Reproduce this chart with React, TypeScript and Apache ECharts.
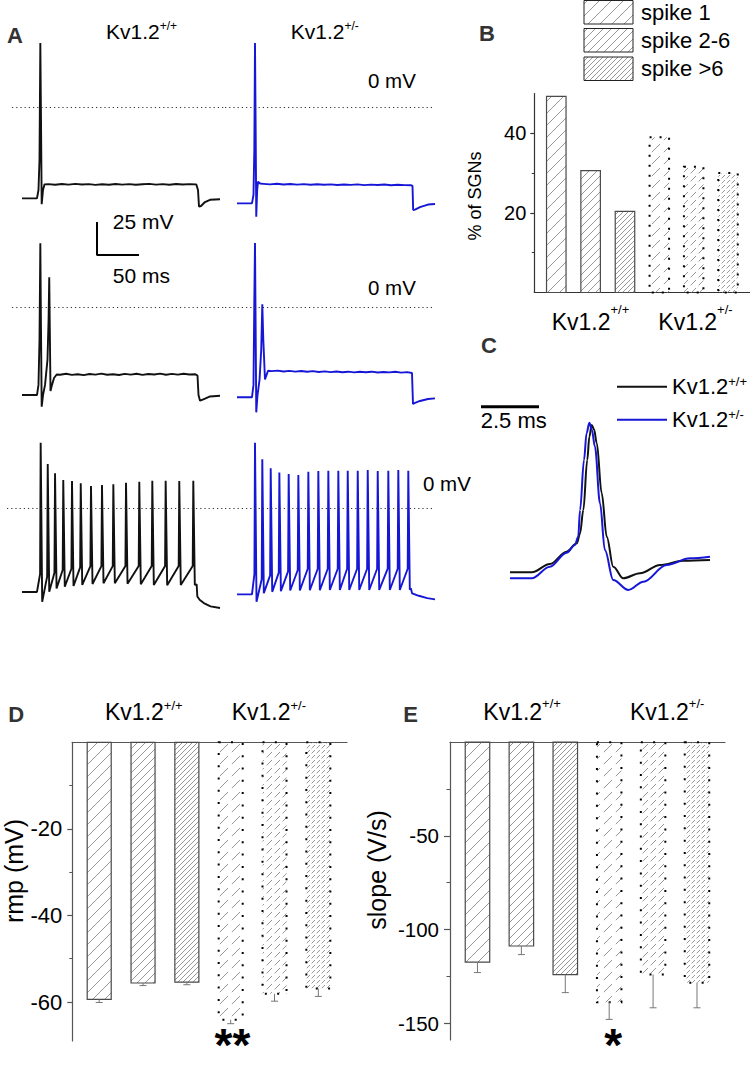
import React, { useEffect, useRef } from "react";
import * as echarts from "echarts";

const FONT = 'Arial, "Liberation Sans", Helvetica, sans-serif';
const WT_COLOR = "#111111";
const HET_COLOR = "#1616d6";

// ---------------- Panel A: current-clamp traces (ms from step onset, mV) ----------------
const plateauR1WT: [number, number][] = [
  [10, -58.4], [18, -58.9], [26, -58.3], [34, -58.8], [42, -58.2], [50, -58.7], [58, -58.4], [66, -59.0],
  [74, -58.5], [82, -58.9], [90, -58.3], [98, -58.8], [106, -58.4], [114, -58.9], [122, -58.5], [130, -58.2],
  [138, -58.8], [146, -58.4], [154, -58.9], [162, -58.3], [170, -58.7], [178, -58.4], [186, -58.6],
];
const traceR1WT: [number, number][] = [
  [-21.4, -69.2], [-3.6, -69.2], [-1.8, -62.9], [-0.6, -40], [0.4, 48.5], [1.2, -9.8], [2.0, -73.7],
  [3.6, -62.9], [5.4, -58.6],
  ...plateauR1WT,
  [188.1, -62.9], [189.3, -75.5], [191.7, -75], [196.4, -72], [202.4, -70.3], [214.3, -69.9],
];
const plateauR1Het: [number, number][] = [
  [10, -58.2], [18, -58.6], [26, -58.1], [34, -58.7], [42, -58.3], [50, -58.8], [58, -58.4], [66, -58.9],
  [74, -58.5], [82, -58.9], [90, -58.6], [98, -59.1], [106, -58.7], [114, -59.0], [122, -58.6], [130, -59.2],
  [138, -58.8], [146, -59.1], [154, -58.7], [162, -59.3], [170, -58.9], [178, -59.2], [186, -59.3],
];
const traceR1Het: [number, number][] = [
  [-21.4, -73], [-3.6, -73], [-1.8, -66.7], [-0.8, -32.6], [0, 48.5], [0.8, -17.4], [1.5, -83.1],
  [2.6, -62.9], [3.6, -56.6], [6, -58],
  ...plateauR1Het,
  [187.5, -59.8], [188.3, -78], [190.5, -77.7], [196.4, -75.8], [206, -73.9], [214.3, -73.5],
];
const plateauR2WT: [number, number][] = [
  [24, -51.3], [31, -50.6], [38, -51.4], [45, -50.9], [52, -51.6], [59, -50.8], [66, -51.2], [73, -50.5],
  [80, -51.3], [87, -50.9], [94, -51.5], [101, -50.7], [108, -51.2], [115, -50.6], [122, -51.4], [129, -50.8],
  [136, -51.1], [143, -50.5], [150, -51.3], [157, -50.7], [164, -51.2], [171, -50.6], [178, -51.1], [185, -51.0],
];
const traceR2WT: [number, number][] = [
  [-21.4, -66.7], [-3.6, -66.7], [-1.8, -59], [-0.6, -25], [0.4, 48.3], [1.2, -17.4], [2.0, -75.5],
  [3.6, -66.7], [6, -59], [8.9, -40], [10.2, -9.8], [11, 22.5], [11.7, -17.4], [12.5, -63.6], [14.3, -59],
  [16.7, -53.8], [19.9, -51.1],
  ...plateauR2WT,
  [187.5, -51.9], [188.7, -66.7], [190.5, -71], [195.2, -69.7], [202.4, -67.8], [214.3, -67.2],
];
const plateauR2Het: [number, number][] = [
  [20, -48.6], [27, -48.2], [34, -48.9], [41, -48.4], [48, -49.0], [55, -48.5], [62, -49.1], [69, -48.6],
  [76, -49.2], [83, -48.8], [90, -49.3], [97, -48.9], [104, -49.4], [111, -49.0], [118, -49.5], [125, -49.1],
  [132, -49.4], [139, -49.0], [146, -49.6], [153, -49.2], [160, -49.5], [167, -49.1], [174, -49.7], [181, -49.3],
];
const traceR2Het: [number, number][] = [
  [-21.4, -68.4], [-3.6, -68.4], [-1.8, -59], [-0.8, 5.3], [0, 48.5], [0.8, -17.4], [1.5, -79.8],
  [3, -66.7], [5.4, -55.3], [7.4, -32.6], [8.7, 2], [9.9, -25], [11.9, -54.8], [15.5, -48.3],
  ...plateauR2Het,
  [186.9, -50], [188.1, -73.5], [190.5, -72.7], [196.4, -71.2], [206, -69.7], [214.3, -69.2],
];

// Row 3: repetitive firing
const trainWTTimes = [0.8, 9.2, 17.9, 27.7, 38.1, 48.5, 60.7, 73.8, 87.3, 102.4, 118.2, 133.7, 149.6, 165.8, 182.5];
const trainWTPeaks = [49.5, 33.3, 26.3, 21.2, 20.5, 18.7, 16.7, 17.4, 18.0, 19.2, 19.9, 20.7, 20.7, 20.5, 20.7];
const trainWTTroughs = [-71, -63.4, -60.9, -59.6, -59.1, -58.3, -57.6, -57, -57, -57.3, -57.8, -58.3, -58.6, -58.3, -58.3];
const trainWTThresh = [-50, -52, -49, -47, -46, -45, -44, -44, -44, -44, -44, -44, -44, -44, -44];
const trainWTTail: [number, number][] = [[186.5, -57.8], [187.3, -67], [190, -69.5], [195, -72], [203, -74.5], [214.3, -75.8]];

const trainHetTimes = [0, 8.7, 18.7, 29, 40.1, 51.6, 63.5, 75.4, 87.3, 99.2, 110.4, 122.3, 134.2, 146.1, 158.7, 170.6, 182.5];
const trainHetPeaks = [49.5, 36.9, 30.1, 26.8, 25.8, 25.0, 27.5, 28.0, 28.3, 28.3, 28.3, 28.3, 28.8, 28.0, 28.3, 28.8, 28.3];
const trainHetTroughs = [-71, -64.5, -63.5, -63, -62.5, -62.5, -62.3, -62.3, -62.1, -62.1, -62.1, -62.1, -62.1, -62.1, -62.1, -62.1, -62];
const trainHetThresh = [-50, -54, -51, -49, -48, -47, -46, -46, -46, -46, -46, -46, -46, -46, -46, -46, -46];
const trainHetTail: [number, number][] = [[185.5, -60.8], [187, -64.6], [195, -66.5], [205, -68.3], [214.3, -69.2]];

const baselineR3WT = -63.6;
const baselineR3Het = -65.4;

// scale bar: 25 mV / 50 ms
const scaleBarA: [number, number][] = [[0, 25], [0, 0], [50, 0]];

// ---------------- Panel B ----------------
const groups = ["Kv1.2+/+", "Kv1.2+/-"];
const spikeClasses = ["spike 1", "spike 2-6", "spike >6"];
const pctWT = [49.3, 30.6, 20.4];
const pctHet = [39.0, 31.6, 30.0];

// ---------------- Panel C: average AP (ms, mV) ----------------
const apTWT = [0, 0.94, 1.72, 2.44, 2.88, 3.02, 3.16, 3.33, 3.42, 3.52, 3.62, 3.74, 3.95, 4.17, 4.45, 4.88, 5.6, 6.47, 7.47, 8.62];
const apVWT = [-64.2, -64.2, -58.1, -49, -42.9, -35.5, -18.4, 18.4, 35.5, 44.1, 41, 30.7, -5.9, -38, -60.1, -68.6, -64.9, -58.8, -55.7, -55.1];
const apTHet = [0, 0.94, 1.72, 2.44, 2.8, 2.94, 3.02, 3.19, 3.3, 3.42, 3.53, 3.66, 3.88, 4.09, 4.45, 5.1, 5.75, 6.75, 7.76, 8.62];
const apVHet = [-68.6, -68.6, -60.1, -49.8, -44.1, -38, -18.4, 18.4, 38, 45.8, 40.4, 28.2, -13.5, -47.8, -69.9, -77.2, -71.1, -58.8, -53.9, -52.7];
const scaleBarC: [number, number][] = [[-1.25, 57.5], [1.25, 57.5]];

// ---------------- Panel D: resting membrane potential (mV) ----------------
const rmpWT = [-59.4, -55.6, -55.4];
const rmpWTSem = [0.7, 0.6, 0.6];
const rmpHet = [-64.1, -58.1, -56.9];
const rmpHetSem = [0.9, 1.7, 1.8];

// ---------------- Panel E: slope (V/s) ----------------
const slopeWT = [-117.4, -108.8, -124.1];
const slopeWTSem = [5.6, 4.6, 9.6];
const slopeHet = [-138.8, -124.0, -128.4];
const slopeHetSem = [9.2, 17.8, 13.4];

const hatchPeriods = [12, 8, 5];

function buildTrain(
  startT: number, baseline: number, times: number[], peaks: number[], troughs: number[], thresh: number[],
  tail: [number, number][]
): [number, number][] {
  const pts: [number, number][] = [[startT, baseline], [-3.6, baseline]];
  times.forEach((t, i) => {
    pts.push([t - 0.7, thresh[i]], [t, peaks[i]], [t + 1.8, troughs[i]]);
  });
  return pts.concat(tail);
}

function makeHatch(p: number, dashed: boolean): HTMLCanvasElement {
  const c = document.createElement("canvas");
  c.width = p;
  c.height = p;
  const g = c.getContext("2d");
  if (g) {
    g.strokeStyle = "#8c8c8c";
    g.lineWidth = 0.9;
    g.beginPath();
    if (dashed) {
      g.moveTo(p * 0.32, p * 0.68);
      g.lineTo(p + 1, -1);
    } else {
      g.moveTo(-1, p + 1);
      g.lineTo(p + 1, -1);
      g.moveTo(-1, 1);
      g.lineTo(1, -1);
      g.moveTo(p - 1, p + 1);
      g.lineTo(p + 1, p - 1);
    }
    g.stroke();
  }
  return c;
}

export default function App() {
  const ref = useRef<HTMLDivElement>(null);

  useEffect(() => {
    if (!ref.current) return;
    const chart = echarts.init(ref.current, undefined, { renderer: "svg" });

    const hatch = hatchPeriods.map((p) => [makeHatch(p, false), makeHatch(p, true)]);
    const pat = (k: number, dashed: boolean) => ({ image: hatch[k][dashed ? 1 : 0], repeat: "repeat" });

    const zeroLine = {
      silent: true,
      symbol: ["none", "none"],
      label: { show: false },
      lineStyle: { color: "#333", width: 1, type: [1.2, 3] },
      data: [{ yAxis: 0 }],
    };

    const rowZero = [107, 307, 508];
    const pxPerMV = 1.32;
    const gridsA: any[] = [];
    rowZero.forEach((y0, r) => {
      const top = y0 - 52 * pxPerMV;
      const h = 142 * pxPerMV;
      gridsA.push({ left: r === 2 ? 7 : 12, top, width: r === 2 ? 218 : 213, height: h });
      gridsA.push({ left: 225, top, width: 210, height: h });
    });

    const grids = [
      ...gridsA, // 0..5
      { left: 92, top: 215.5, width: 84, height: 46.2 }, // 6 scale bar
      { left: 534.3, top: 93.5, width: 215.7, height: 199 }, // 7 B
      { left: 475, top: 400, width: 240, height: 200.6 }, // 8 C
      { left: 72.3, top: 742.3, width: 274.7, height: 298.7 }, // 9 D
      { left: 450, top: 742.2, width: 275, height: 297.8 }, // 10 E
    ].map((g) => ({ ...g, containLabel: false, outerBoundsMode: "none" }));

    const hiddenX = (gridIndex: number, min: number, max: number) => ({ type: "value", gridIndex, min, max, show: false });
    const hiddenY = (gridIndex: number, min: number, max: number) => ({ type: "value", gridIndex, min, max, show: false });

    const barX = (gridIndex: number, min: number, max: number, position: string, color: string) => ({
      type: "value", gridIndex, min, max, position,
      axisLine: { show: true, onZero: false, lineStyle: { color, width: 1.2 } },
      axisTick: { show: false }, axisLabel: { show: false }, splitLine: { show: false },
    });
    const mainY = (gridIndex: number, min: number, max: number, ticks: number[], len: number, size: number, margin: number, color: string) => ({
      type: "value", gridIndex, min, max, position: "left",
      axisLine: { show: true, onZero: false, lineStyle: { color, width: 1.2 } },
      axisTick: { show: true, customValues: ticks, length: len, inside: false, lineStyle: { color, width: 1.2 } },
      axisLabel: { show: true, customValues: ticks, fontSize: size, fontFamily: FONT, color: "#000", margin },
      splitLine: { show: false },
    });
    const minorY = (gridIndex: number, min: number, max: number, ticks: number[], len: number, color: string) => ({
      type: "value", gridIndex, min, max, position: "left",
      axisLine: { show: false, onZero: false },
      axisTick: { show: true, customValues: ticks, length: len, inside: false, lineStyle: { color, width: 1 } },
      axisLabel: { show: false }, splitLine: { show: false },
    });

    const xAxis = [
      hiddenX(0, -33.33, 220.24),
      hiddenX(1, -35.71, 214.29),
      hiddenX(2, -33.33, 220.24),
      hiddenX(3, -35.71, 214.29),
      hiddenX(4, -39.29, 220.24),
      hiddenX(5, -35.71, 214.29),
      hiddenX(6, -5.95, 94.05),
      barX(7, -0.64, 5.64, "bottom", "#333"),
      hiddenX(8, -1.509, 8.836),
      barX(9, -0.614, 5.654, "top", "#555"),
      barX(10, -0.626, 5.638, "top", "#555"),
    ];
    const yAxis = [
      hiddenY(0, -90, 52), hiddenY(1, -90, 52), hiddenY(2, -90, 52),
      hiddenY(3, -90, 52), hiddenY(4, -90, 52), hiddenY(5, -90, 52),
      hiddenY(6, -5, 30),
      mainY(7, 0, 50, [20, 40], 4, 20, 8, "#333"),
      hiddenY(8, -85, 62.5),
      mainY(9, -69, 0, [-60, -40, -20], 5, 22, 10, "#555"),
      mainY(10, -159, 0, [-150, -100, -50], 6, 20.5, 11, "#555"),
      minorY(7, 0, 50, [10, 30], 2.5, "#333"),
      minorY(9, -69, 0, [-50, -30, -10], 3, "#555"),
      minorY(10, -159, 0, [-125, -75, -25], 3.5, "#555"),
    ];

    const traceSeries = (name: string, idx: number, data: [number, number][], color: string) => ({
      type: "line", name, xAxisIndex: idx, yAxisIndex: idx, data, symbol: "none", showSymbol: false,
      color, lineStyle: { color, width: 1.9 }, silent: true, emphasis: { disabled: true }, markLine: zeroLine,
    });

    const trainWT = buildTrain(-21.4, baselineR3WT, trainWTTimes, trainWTPeaks, trainWTTroughs, trainWTThresh, trainWTTail);
    const trainHet = buildTrain(-21.4, baselineR3Het, trainHetTimes, trainHetPeaks, trainHetTroughs, trainHetThresh, trainHetTail);

    const barSeries = (name: string, idx: number, values: number[], sems: number[] | null, barW: number, dotGap: number) => ({
      type: "custom", name, xAxisIndex: idx, yAxisIndex: idx, silent: true,
      data: values.map((v, i) => [i, v, sems ? v - sems[i] : v]),
      renderItem: (params: any, api: any) => {
        const k = params.dataIndex;
        const x = api.value(0);
        const v = api.value(1);
        const e = api.value(2);
        const base = api.coord([x, 0]);
        const end = api.coord([x, v]);
        const err = api.coord([x, e]);
        const w = api.size([barW, 0])[0];
        const dotted = k >= 3;
        const children: any[] = [
          {
            type: "rect",
            shape: { x: base[0] - w / 2, y: Math.min(base[1], end[1]), width: w, height: Math.abs(end[1] - base[1]) },
            style: {
              fill: pat(k % 3, dotted),
              stroke: dotted ? "#000" : "#4a4a4a",
              lineWidth: dotted ? 2 : 1.2,
              lineDash: dotted ? [2, dotGap] : null,
            },
          },
        ];
        if (sems) {
          children.push({ type: "line", shape: { x1: end[0], y1: end[1], x2: err[0], y2: err[1] }, style: { stroke: "#777", lineWidth: 1 } });
          children.push({ type: "line", shape: { x1: err[0] - 3.5, y1: err[1], x2: err[0] + 3.5, y2: err[1] }, style: { stroke: "#777", lineWidth: 1 } });
        }
        return { type: "group", children };
      },
    });

    const series: any[] = [
      traceSeries("A1 Kv1.2+/+", 0, traceR1WT, WT_COLOR),
      traceSeries("A1 Kv1.2+/-", 1, traceR1Het, HET_COLOR),
      traceSeries("A2 Kv1.2+/+", 2, traceR2WT, WT_COLOR),
      traceSeries("A2 Kv1.2+/-", 3, traceR2Het, HET_COLOR),
      traceSeries("A3 Kv1.2+/+", 4, trainWT, WT_COLOR),
      traceSeries("A3 Kv1.2+/-", 5, trainHet, HET_COLOR),
      {
        type: "line", name: "scale A", xAxisIndex: 6, yAxisIndex: 6, data: scaleBarA, symbol: "none",
        color: "#000", lineStyle: { color: "#000", width: 2 }, silent: true,
      },
      barSeries("% of SGNs", 7, [...pctWT, ...pctHet], null, 0.568, 8),
      {
        type: "line", name: groups[0], xAxisIndex: 8, yAxisIndex: 8, data: apTWT.map((t, i) => [t, apVWT[i]]),
        smooth: 0.35, smoothMonotone: "x", symbol: "none", color: WT_COLOR, lineStyle: { color: WT_COLOR, width: 2 }, silent: true,
      },
      {
        type: "line", name: groups[1], xAxisIndex: 8, yAxisIndex: 8, data: apTHet.map((t, i) => [t, apVHet[i]]),
        smooth: 0.35, smoothMonotone: "x", symbol: "none", color: HET_COLOR, lineStyle: { color: HET_COLOR, width: 2 }, silent: true,
      },
      {
        type: "line", name: "scale C", xAxisIndex: 8, yAxisIndex: 8, data: scaleBarC, symbol: "none",
        color: "#000", lineStyle: { color: "#000", width: 3 }, silent: true,
      },
      barSeries("rmp", 9, [...rmpWT, ...rmpHet], [...rmpWTSem, ...rmpHetSem], 0.548, 10.3),
      barSeries("slope", 10, [...slopeWT, ...slopeHet], [...slopeWTSem, ...slopeHetSem], 0.558, 10.3),
    ];

    const T = (text: string, x: number, y: number, size: number, extra: any = {}) => ({
      type: "text", x, y, silent: true, ...(extra.el || {}),
      style: { text, fontSize: size, fontFamily: FONT, fill: "#000", align: "left", verticalAlign: "middle", ...(extra.style || {}) },
    });
    const bold = (text: string, x: number, y: number) => T(text, x, y, 22, { style: { fontWeight: "bold", fill: "#333" } });
    const kv = (sup: string, x: number, baseY: number, f: number, sf: number, lhFactor = 1.15) => {
      const L = Math.round(f * lhFactor);
      return {
        type: "text", x, y: baseY - (L / 2 + 0.35 * f), silent: true,
        style: {
          text: `{a|Kv1.2}{s|${sup}}`, align: "left", verticalAlign: "top", fill: "#000", fontFamily: FONT, fontSize: f,
          rich: {
            a: { fontSize: f, lineHeight: L, fontFamily: FONT, fill: "#000" },
            s: { fontSize: sf, lineHeight: sf, verticalAlign: "top", fontFamily: FONT, fill: "#000" },
          },
        },
      };
    };
    const rot = (text: string, x: number, y: number, size: number) => ({
      type: "text", x, y, rotation: Math.PI / 2, silent: true,
      style: { text, fontSize: size, fontFamily: FONT, fill: "#000", align: "center", verticalAlign: "middle" },
    });

    const legendBoxes = [0.5, 28.5, 57].map((y, k) => ({
      type: "rect", silent: true,
      shape: { x: 584, y, width: 49, height: 23.5 },
      style: { fill: pat(k, false), stroke: "#222", lineWidth: 1 },
    }));
    const legendTexts = spikeClasses.map((s, k) => T(s, 641, [12.5, 40.5, 68.7][k], 22));

    const graphic = [
      bold("A", 7, 35.2),
      kv("+/+", 106, 39.3, 21, 12),
      kv("+/-", 290.7, 39.3, 21, 12),
      T("0 mV", 368, 80, 20.5),
      T("0 mV", 368, 287, 20.5),
      T("0 mV", 423, 483.3, 20.5),
      T("25 mV", 112.7, 221.5, 21),
      T("50 ms", 112.7, 275.8, 21),
      bold("B", 479, 33.8),
      ...legendBoxes,
      ...legendTexts,
      rot("% of SGNs", 475, 196, 18),
      kv("+/+", 551.7, 330, 23, 13, 1.6),
      kv("+/-", 658.3, 330, 23, 13, 1.6),
      bold("C", 481, 345.5),
      T("2.5 ms", 480.7, 420.5, 22),
      bold("D", 8.3, 714),
      kv("+/+", 105, 720, 23, 13),
      kv("+/-", 231.7, 720, 23, 13),
      rot("rmp (mV)", 14, 871, 25),
      T("**", 232.5, 1045, 46, { style: { fontWeight: "bold", align: "center" } }),
      bold("E", 403.3, 714),
      kv("+/+", 483.3, 720, 23, 13, 1.3),
      kv("+/-", 630, 720, 23, 13, 1.3),
      rot("slope (V/s)", 377, 870, 25),
      T("*", 613.3, 1045, 46, { style: { fontWeight: "bold", align: "center" } }),
    ];

    const option: any = {
      animation: false,
      backgroundColor: "#ffffff",
      grid: grids,
      xAxis,
      yAxis,
      legend: {
        data: groups,
        orient: "vertical",
        left: 612,
        top: 369.7,
        icon: "rect",
        itemWidth: 50,
        itemHeight: 2,
        itemGap: 10,
        selectedMode: false,
        formatter: (n: string) => (n === groups[0] ? "{a|Kv1.2}{s|+/+}" : "{a|Kv1.2}{s|+/-}"),
        textStyle: {
          color: "#000",
          rich: {
            a: { fontSize: 22, lineHeight: 24, fontFamily: FONT, color: "#000" },
            s: { fontSize: 13, lineHeight: 13, verticalAlign: "top", fontFamily: FONT, color: "#000" },
          },
        },
      },
      graphic,
      series,
    };

    chart.setOption(option);
    return () => chart.dispose();
  }, []);

  return (
    <div
      ref={ref}
      style={{ position: "absolute", left: 0, top: 0, width: 750, height: 1071, background: "#fff" }}
    />
  );
}
